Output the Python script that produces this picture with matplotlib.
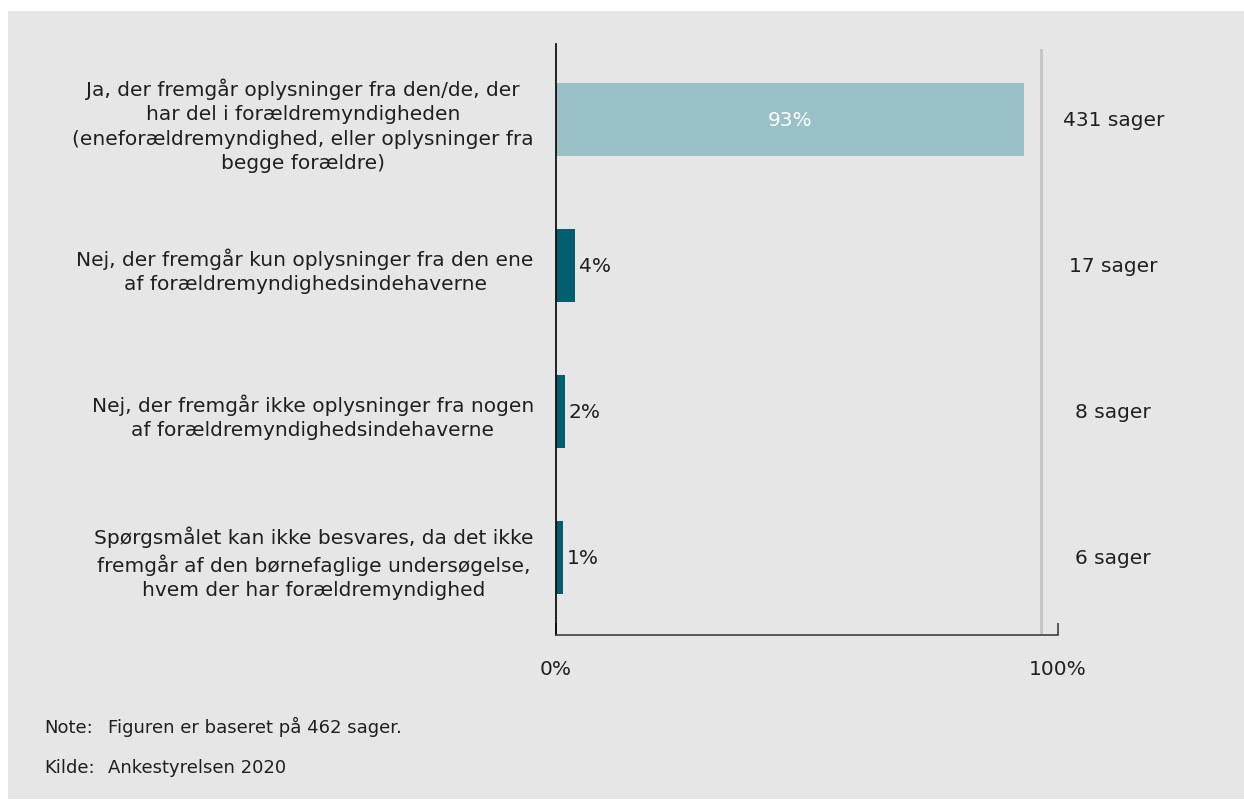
import matplotlib.pyplot as plt
from matplotlib.patches import Rectangle

categories = [
    "Ja, der fremgår oplysninger fra den/de, der\nhar del i forældremyndigheden\n(eneforældremyndighed, eller oplysninger fra\nbegge forældre)",
    "Nej, der fremgår kun oplysninger fra den ene\naf forældremyndighedsindehaverne",
    "Nej, der fremgår ikke oplysninger fra nogen\naf forældremyndighedsindehaverne",
    "Spørgsmålet kan ikke besvares, da det ikke\nfremgår af den børnefaglige undersøgelse,\nhvem der har forældremyndighed",
]
shares = [93.3, 3.7, 1.7, 1.3]
pct_labels = ["93%", "4%", "2%", "1%"]
case_labels = ["431 sager", "17 sager", "8 sager", "6 sager"]

bg = "#e6e6e6"
light = "#9ac0c8"
dark = "#005f6e"
txt = "#1f1f1f"
fs = 14.5

fig = plt.figure(figsize=(12.44, 8.03), dpi=100)
fig.patch.set_facecolor("white")
fig.patches.append(Rectangle((8 / 1244, 0.004), 1, 1 - 12 / 803 - 0.004,
                             transform=fig.transFigure, facecolor=bg,
                             edgecolor="none", zorder=-1))

ax = fig.add_axes([556 / 1244, 1 - 636 / 803, 502 / 1244, (636 - 45) / 803])
ax.set_facecolor(bg)

y = list(range(len(categories)))
colors = [light] + [dark] * (len(categories) - 1)
ax.barh(y, shares, height=0.5, color=colors)

ax.set_xlim(0, 100)
ax.set_ylim(3.53, -0.52)

# percentage labels
for i, (v, lab) in enumerate(zip(shares, pct_labels)):
    if i == 0:
        ax.text(v / 2, i, lab, ha="center", va="center", color="white", fontsize=fs)
    else:
        ax.text(v + 0.8, i, lab, ha="left", va="center", color=txt, fontsize=fs)

# case counts on the right
ax.axvline(96.7, ymin=0, ymax=0.99, color="#c4c4c4", lw=2)
for i, lab in enumerate(case_labels):
    ax.text(111, i, lab, ha="center", va="center", color=txt, fontsize=fs, clip_on=False)

ax.set_yticks(y)
ax.set_yticklabels(categories, fontsize=fs, color=txt, multialignment="center",
                   linespacing=1.36)
ax.tick_params(axis="y", length=0, pad=16)

ax.set_xticks([0, 100])
ax.set_xticklabels(["0%", "100%"], fontsize=fs, color=txt)
ax.tick_params(axis="x", direction="in", length=9, width=1.2, color="#404040", pad=17)

for s in ["top", "right"]:
    ax.spines[s].set_visible(False)
ax.spines["left"].set_color("black")
ax.spines["left"].set_linewidth(1.2)
ax.spines["bottom"].set_color("#404040")
ax.spines["bottom"].set_linewidth(1.2)

nfs = 13
fig.text(44 / 1244, 1 - 733 / 803, "Note:", fontsize=nfs, color=txt, va="baseline")
fig.text(108 / 1244, 1 - 733 / 803, "Figuren er baseret på 462 sager.", fontsize=nfs,
         color=txt, va="baseline")
fig.text(44 / 1244, 1 - 773 / 803, "Kilde:", fontsize=nfs, color=txt, va="baseline")
fig.text(108 / 1244, 1 - 773 / 803, "Ankestyrelsen 2020", fontsize=nfs, color=txt,
         va="baseline")

fig.savefig("out.png", dpi=100, facecolor=fig.get_facecolor())
